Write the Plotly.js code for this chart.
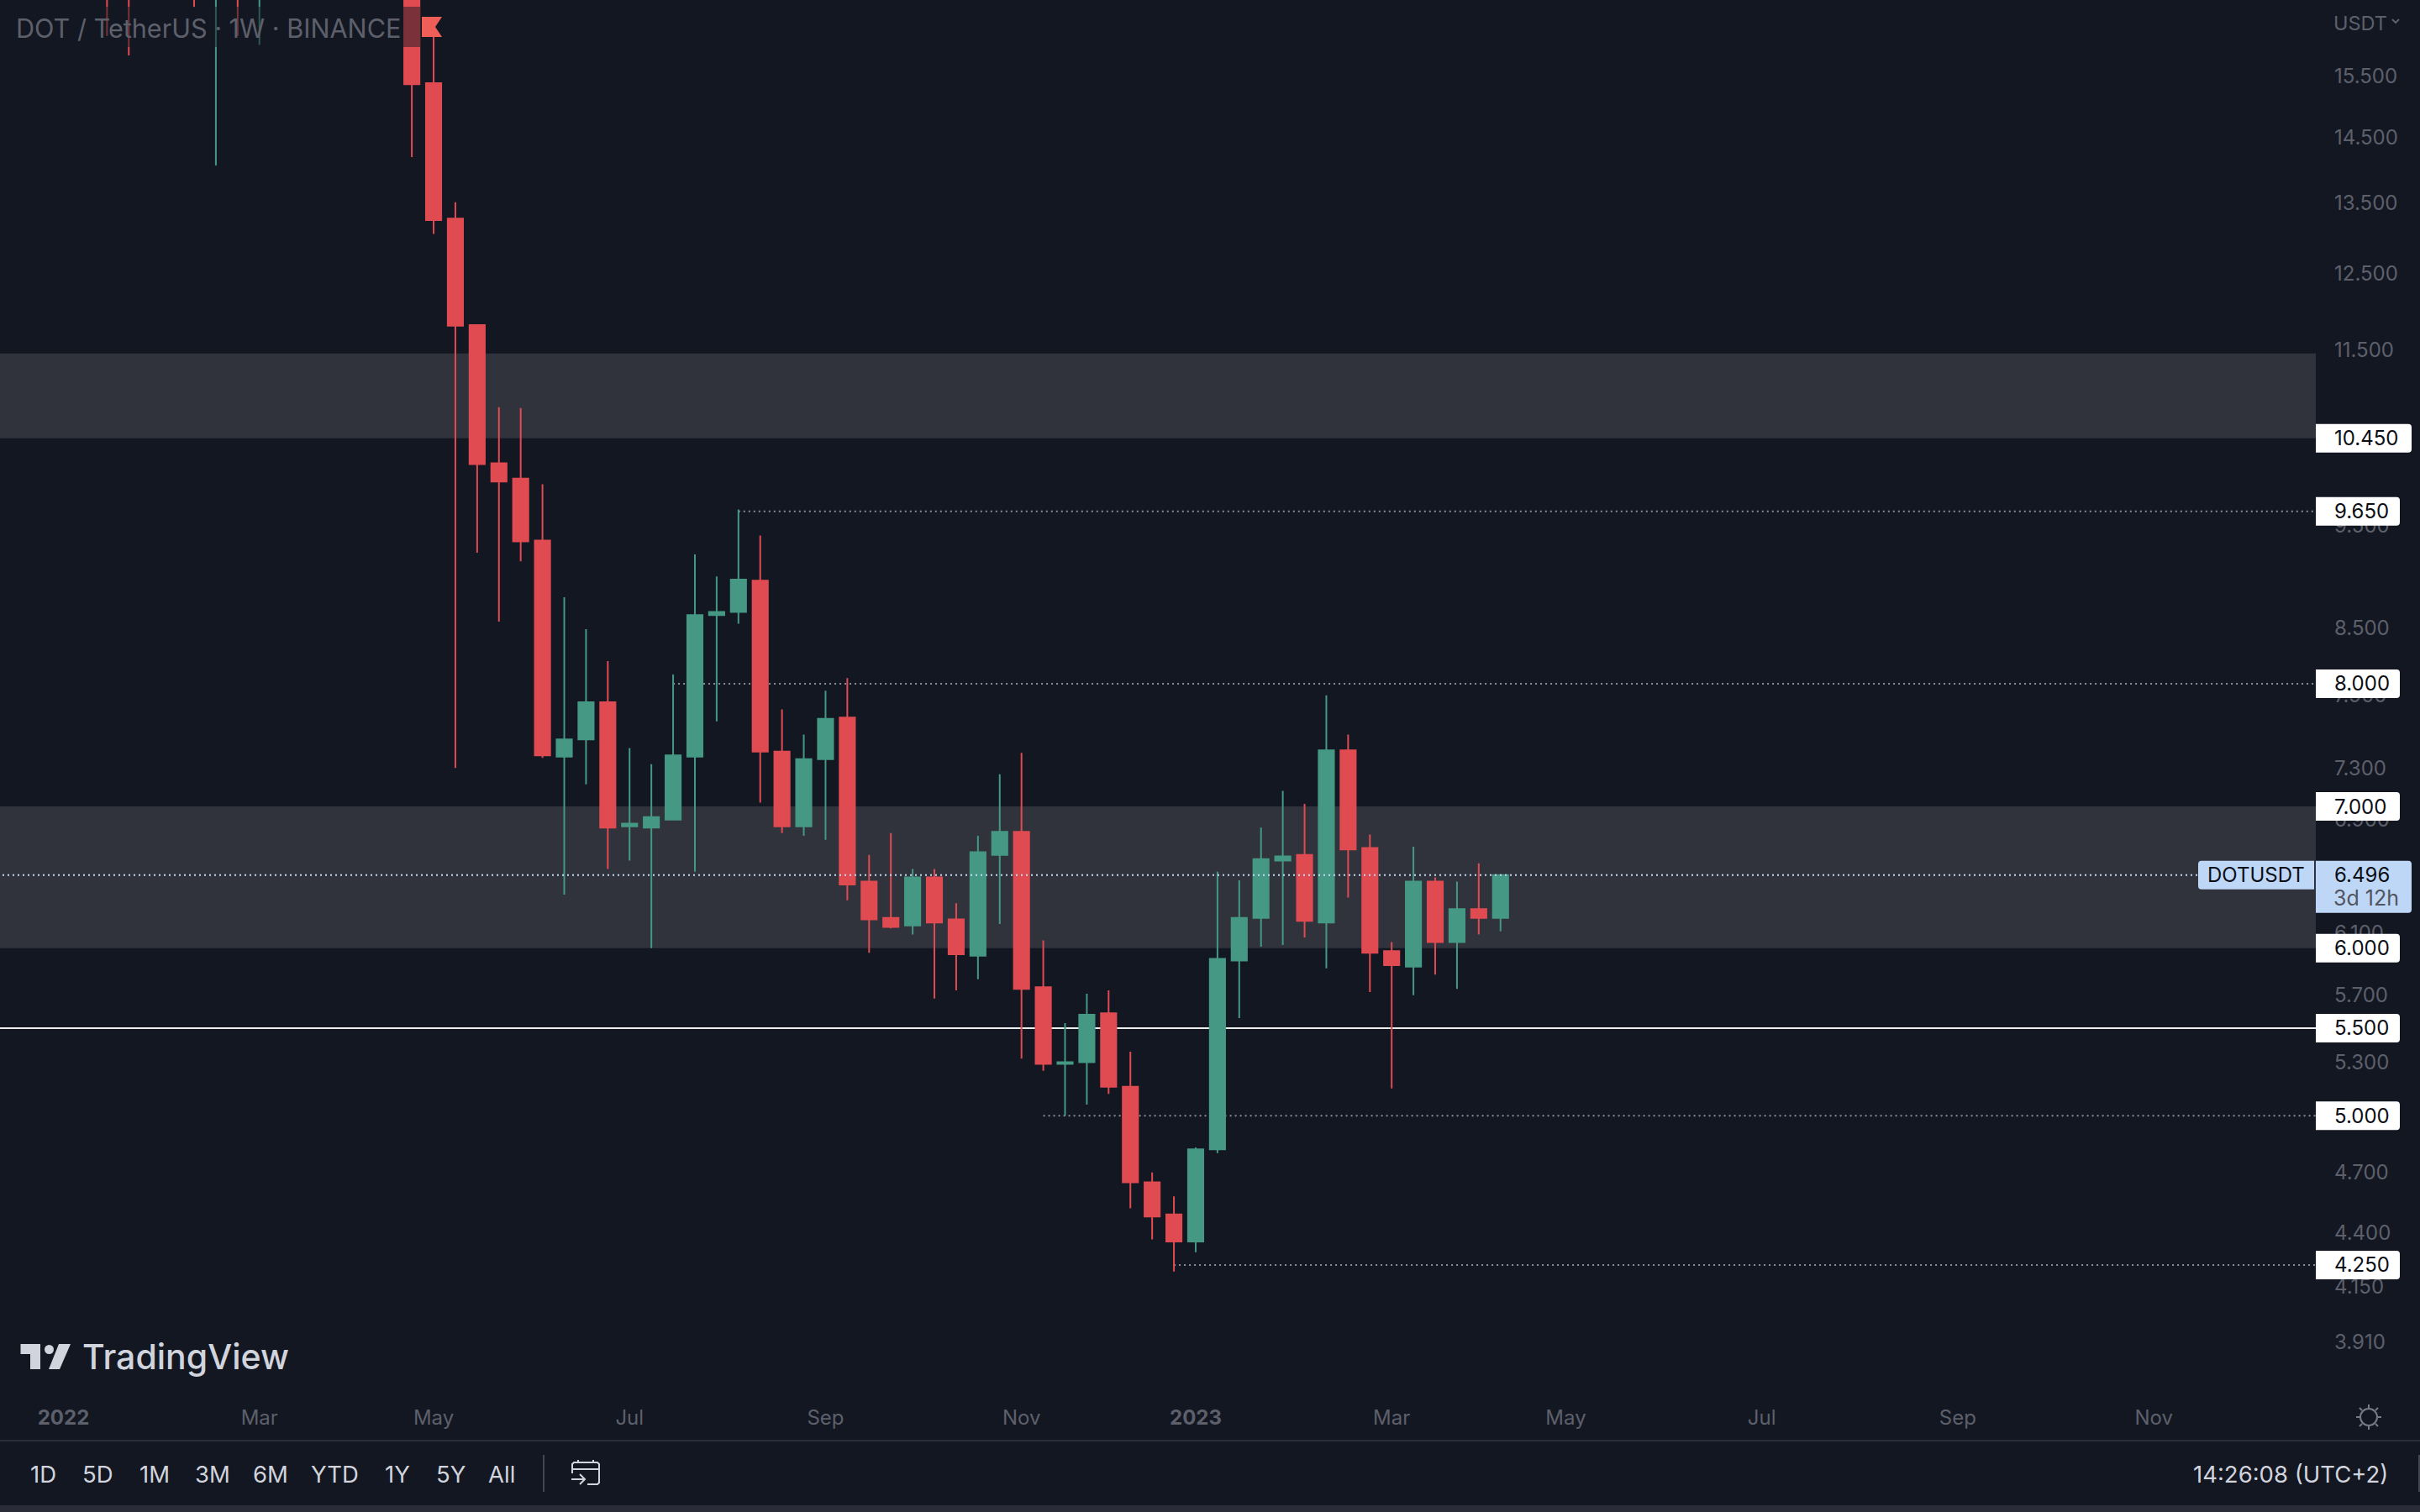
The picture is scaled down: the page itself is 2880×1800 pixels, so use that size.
<!DOCTYPE html>
<html>
<head>
<meta charset="utf-8">
<title>DOT / TetherUS</title>
<script src="https://cdn.plot.ly/plotly-3.0.1.min.js"></script>
<style>
    html, body { margin: 0; padding: 0; background: #131722; overflow: hidden; }
</style>
</head>
<body>
<div id="graph"></div>
<script>
// weekly candles
// the six early weeks only show a low wick, their bodies sit above the crop (estimated)
const dates = [
    '2022-01-17', '2022-01-24', '2022-02-14', '2022-02-21', '2022-02-28', '2022-03-07',
    '2022-04-25', '2022-05-02', '2022-05-09', '2022-05-16', '2022-05-23', '2022-05-30',
    '2022-06-06', '2022-06-13', '2022-06-20', '2022-06-27', '2022-07-04', '2022-07-11',
    '2022-07-18', '2022-07-25', '2022-08-01', '2022-08-08', '2022-08-15', '2022-08-22',
    '2022-08-29', '2022-09-05', '2022-09-12', '2022-09-19', '2022-09-26', '2022-10-03',
    '2022-10-10', '2022-10-17', '2022-10-24', '2022-10-31', '2022-11-07', '2022-11-14',
    '2022-11-21', '2022-11-28', '2022-12-05', '2022-12-12', '2022-12-19', '2022-12-26',
    '2023-01-02', '2023-01-09', '2023-01-16', '2023-01-23', '2023-01-30', '2023-02-06',
    '2023-02-13', '2023-02-20', '2023-02-27', '2023-03-06', '2023-03-13', '2023-03-20',
    '2023-03-27', '2023-04-03', '2023-04-10'
]
const opens = [
    26.0, 21.0, 21.0, 18.0, 18.8, 17.9,
    18.6, 15.38, 13.27, 11.82, 10.17, 10.00,
    9.35, 7.39, 7.53, 7.84, 6.85, 6.84,
    6.90, 7.39, 8.62, 8.65, 8.95, 7.43,
    6.85, 7.37, 7.71, 6.45, 6.20, 6.15,
    6.48, 6.19, 5.95, 6.64, 6.81, 5.75,
    5.29, 5.30, 5.59, 5.16, 4.65, 4.49,
    4.36, 4.82, 5.92, 6.20, 6.60, 6.64,
    6.17, 7.44, 6.69, 5.98, 5.88, 6.45,
    6.04, 6.26, 6.20
]
const highs = [
    27.0, 22.0, 22.0, 19.0, 20.0, 19.0,
    19.5, 16.38, 13.51, 11.82, 10.81, 10.80,
    9.94, 8.79, 8.49, 8.20, 7.46, 7.33,
    8.08, 9.21, 8.99, 9.67, 9.40, 7.78,
    7.57, 7.94, 8.05, 6.64, 6.80, 6.54,
    6.54, 6.30, 6.78, 7.25, 7.42, 6.05,
    5.53, 5.71, 5.73, 5.36, 4.70, 4.58,
    4.83, 6.52, 6.46, 6.84, 7.12, 7.02,
    7.90, 7.57, 6.79, 6.04, 6.70, 6.48,
    6.45, 6.58, 6.496
]
const lows = [
    16.19, 15.85, 16.71, 14.06, 16.19, 16.03,
    14.19, 13.05, 7.30, 9.225, 8.56, 9.14,
    7.38, 6.36, 7.17, 6.54, 6.60, 6.00,
    6.90, 6.52, 7.68, 8.54, 7.03, 6.80,
    6.78, 6.75, 6.32, 5.97, 6.13, 6.09,
    5.68, 5.73, 5.80, 6.16, 5.32, 5.25,
    5.00, 5.06, 5.12, 4.52, 4.37, 4.22,
    4.31, 4.80, 5.56, 6.01, 6.02, 6.07,
    5.87, 6.34, 5.72, 5.15, 5.70, 5.83,
    5.74, 6.09, 6.11
]
const closes = [
    21.0, 18.0, 18.0, 18.9, 18.0, 18.6,
    15.36, 13.25, 11.81, 10.16, 9.97, 9.34,
    7.40, 7.53, 7.84, 6.84, 6.87, 6.92,
    7.40, 8.62, 8.65, 8.96, 7.43, 6.85,
    7.37, 7.70, 6.43, 6.19, 6.14, 6.48,
    6.17, 5.96, 6.66, 6.81, 5.74, 5.29,
    5.30, 5.58, 5.16, 4.65, 4.48, 4.36,
    4.82, 5.93, 6.20, 6.61, 6.63, 6.18,
    7.44, 6.68, 5.97, 5.89, 6.45, 6.04,
    6.26, 6.20, 6.496
]

const priceTicks = [15.5, 14.5, 13.5, 12.5, 11.5, 9.5, 8.5, 7.9, 7.3, 6.9, 6.1, 5.7, 5.3, 4.7, 4.4, 4.15, 3.91]
const priceTickLabels = ['15.500', '14.500', '13.500', '12.500', '11.500', '9.500', '8.500', '7.900', '7.300', '6.900', '6.100', '5.700', '5.300', '4.700', '4.400', '4.150', '3.910']

const timeTicks = ['2022-01-03', '2022-03-07', '2022-05-02', '2022-07-04', '2022-09-05', '2022-11-07', '2023-01-02', '2023-03-06', '2023-05-01', '2023-07-03', '2023-09-04', '2023-11-06']
const timeTickLabels = ['<b>2022</b>', 'Mar', 'May', 'Jul', 'Sep', 'Nov', '<b>2023</b>', 'Mar', 'May', 'Jul', 'Sep', 'Nov']

const zones = [[10.45, 11.46], [6.0, 7.0]]
const levelLabels = [10.45, 9.65, 8.0, 7.0, 6.0, 5.5, 5.0, 4.25]
const dottedLevels = [9.65, 8.0, 5.0, 4.25]
const dottedStarts = ['2022-08-08', '2022-07-18', '2022-11-14', '2022-12-26']
const whiteLevel = 5.5
const lastPrice = 6.496

const rangeButtons = ['1D', '5D', '1M', '3M', '6M', 'YTD', '1Y', '5Y', 'All']
const rangeButtonX = [51, 116, 184, 253, 322, 398, 473, 536, 597]

const W = 2880, H = 1800
const plotW = 2756, plotH = 1665
const priceMin = 3.675, priceMax = 16.835
const xRange = ['2021-12-13 14:24', '2023-12-28 02:24']

const bg = '#131722'
const red = '#E04B52'
const green = '#459884'
const textGray = '#5D606B'
const lightText = '#D1D4DC'
const labelFont = 'Inter, "Noto Sans", sans-serif'

function px(x) { return x / plotW }
function py(y) { return 1 - y / plotH }
function priceFrac(p) {
    return (Math.log10(p) - Math.log10(priceMin)) / (Math.log10(priceMax) - Math.log10(priceMin))
}

// shape path in page pixels, relative to the plot area
function pathOf(points, closed) {
    let d = points.map((p, i) => (i ? 'L' : 'M') + px(p[0]) + ',' + py(p[1])).join(' ')
    return closed ? d + ' Z' : d
}

function pill(x0, y0, x1, y1, rl, rr, color) {
    let d = 'M' + px(x0 + rl) + ',' + py(y0)
        + ' L' + px(x1 - rr) + ',' + py(y0)
        + ' Q' + px(x1) + ',' + py(y0) + ' ' + px(x1) + ',' + py(y0 + rr)
        + ' L' + px(x1) + ',' + py(y1 - rr)
        + ' Q' + px(x1) + ',' + py(y1) + ' ' + px(x1 - rr) + ',' + py(y1)
        + ' L' + px(x0 + rl) + ',' + py(y1)
        + ' Q' + px(x0) + ',' + py(y1) + ' ' + px(x0) + ',' + py(y1 - rl)
        + ' L' + px(x0) + ',' + py(y0 + rl)
        + ' Q' + px(x0) + ',' + py(y0) + ' ' + px(x0 + rl) + ',' + py(y0) + ' Z'
    return {type: 'path', xref: 'paper', yref: 'paper', layer: 'above', path: d, fillcolor: color, line: {width: 0}}
}

function rectPx(x0, y0, x1, y1, color) {
    return {
        type: 'rect', xref: 'paper', yref: 'paper', layer: 'above',
        x0: px(x0), x1: px(x1), y0: py(y0), y1: py(y1),
        fillcolor: color, line: {width: 0}
    }
}

function strokePx(points, color, width) {
    return {
        type: 'path', xref: 'paper', yref: 'paper', layer: 'above',
        path: pathOf(points, false), line: {color: color, width: width}
    }
}

function label(text, x, y, size, color, anchor, weight) {
    return {
        text: text, xref: 'paper', yref: 'paper', x: px(x), y: py(y),
        xanchor: anchor || 'left', yanchor: 'middle', showarrow: false, borderpad: 0,
        font: {family: labelFont, size: size, color: color, weight: weight || 400}
    }
}

function drawGraph() {
    let data = [{
        type: 'candlestick',
        x: dates,
        open: opens,
        high: highs,
        low: lows,
        close: closes,
        hoverinfo: 'skip',
        increasing: {line: {color: green, width: 2}, fillcolor: green},
        decreasing: {line: {color: red, width: 2}, fillcolor: red},
    }]

    let shapes = []
    zones.forEach(z => shapes.push({
        type: 'rect', xref: 'paper', yref: 'y', layer: 'below',
        x0: 0, x1: 1, y0: z[0], y1: z[1], fillcolor: '#30333C', line: {width: 0}
    }))
    dottedLevels.forEach((lvl, i) => shapes.push({
        type: 'line', xref: 'x', yref: 'y', layer: 'below',
        x0: dottedStarts[i], x1: xRange[1], y0: lvl, y1: lvl,
        line: {color: '#8A8D97', width: 2, dash: '2px,4px'}
    }))
    shapes.push({
        type: 'line', xref: 'paper', yref: 'y', layer: 'below',
        x0: 0, x1: 1, y0: whiteLevel, y1: whiteLevel, line: {color: '#EDEDED', width: 2}
    })
    // last price line sits over the candles
    shapes.push({
        type: 'line', xref: 'paper', yref: 'y', layer: 'above',
        x0: px(3), x1: px(2616), y0: lastPrice, y1: lastPrice,
        line: {color: '#C5DAF5', width: 2, dash: '2px,4px'}
    })

    // backdrop under the symbol title, and the flag next to it
    shapes.push(rectPx(0, 8, 500, 56, 'rgba(19,23,34,0.5)'))
    shapes.push({
        type: 'path', xref: 'paper', yref: 'paper', layer: 'above',
        path: pathOf([[502, 20], [526, 20], [518, 32], [526, 44], [502, 44]], true),
        fillcolor: '#EF5F58', line: {width: 0}
    })

    // price labels on the right, the six character one gets the wider box
    let lastY = (1 - priceFrac(lastPrice)) * plotH
    levelLabels.forEach(lvl => {
        let y = (1 - priceFrac(lvl)) * plotH
        shapes.push(pill(plotW, y - 17, lvl >= 10 ? 2870 : 2856, y + 17, 0, 4, '#FFFFFF'))
    })
    shapes.push(pill(2616, lastY - 17, 2754, lastY + 17, 4, 0, '#BFD7F7'))
    shapes.push(pill(plotW, lastY - 17, 2870, lastY + 45, 0, 4, '#BFD7F7'))

    // bottom bar
    shapes.push(rectPx(0, 1714, W, 1716, '#2A2E39'))
    shapes.push(rectPx(0, 1792, W, H, '#2A2D38'))
    shapes.push(rectPx(646, 1732, 648, 1776, '#434651'))
    shapes.push(rectPx(2878, 1732, 2880, 1776, '#434651'))

    // calendar icon
    shapes.push(strokePx([[681, 1754], [681, 1743], [683, 1741], [711, 1741], [713, 1743], [713, 1765], [711, 1767], [699, 1767]], lightText, 2))
    shapes.push(strokePx([[681, 1749], [713, 1749]], lightText, 2))
    shapes.push(strokePx([[688, 1738], [688, 1741]], lightText, 2))
    shapes.push(strokePx([[706, 1738], [706, 1741]], lightText, 2))
    shapes.push(strokePx([[680, 1761], [695, 1761]], lightText, 2))
    shapes.push(strokePx([[690, 1755], [696, 1761], [690, 1767]], lightText, 2))

    // sun icon
    shapes.push({
        type: 'circle', xref: 'paper', yref: 'paper', layer: 'above',
        x0: px(2809), x1: px(2829), y0: py(1697), y1: py(1677),
        line: {color: '#787B86', width: 2}
    })
    let rays = [[0, -15, 0, -11], [0, 15, 0, 11], [-15, 0, -11, 0], [15, 0, 11, 0], [-11, -11, -8, -8], [11, -11, 8, -8], [-11, 11, -8, 8], [11, 11, 8, 8]]
    rays.forEach(r => shapes.push(strokePx([[2819 + r[0], 1687 + r[1]], [2819 + r[2], 1687 + r[3]]], '#787B86', 2)))

    // currency chevron
    shapes.push(strokePx([[2847, 23], [2851, 27], [2855, 23]], textGray, 2))

    // TradingView logo
    shapes.push({
        type: 'path', xref: 'paper', yref: 'paper', layer: 'above',
        path: pathOf([[24.5, 1600], [48, 1600], [48, 1630], [36, 1630], [36, 1612], [24.5, 1612]], true),
        fillcolor: lightText, line: {width: 0}
    })
    shapes.push({
        type: 'circle', xref: 'paper', yref: 'paper', layer: 'above',
        x0: px(53), x1: px(64), y0: py(1612), y1: py(1601),
        fillcolor: lightText, line: {width: 0}
    })
    shapes.push({
        type: 'path', xref: 'paper', yref: 'paper', layer: 'above',
        path: pathOf([[70, 1600], [84, 1600], [71, 1630], [58, 1630]], true),
        fillcolor: lightText, line: {width: 0}
    })

    let annotations = [
        label('DOT / TetherUS · 1W · BINANCE', 18, 33, 30.6, textGray),
        label('USDT', 2776, 27, 23.5, textGray),
        label('DOTUSDT', 2626, lastY, 24, '#0B0E14'),
        label(lastPrice.toFixed(3), 2777, lastY, 24, '#0B0E14'),
        label('3d 12h', 2776, lastY + 27, 25, '#50555F'),
        label('TradingView', 97, 1615, 41, lightText, 'left', 500),
        label('14:26:08 (UTC+2)', 2843, 1755, 27.5, lightText, 'right'),
    ]
    levelLabels.forEach(lvl => {
        annotations.push(label(lvl.toFixed(3), 2777, (1 - priceFrac(lvl)) * plotH, 24, '#0B0E14'))
    })
    rangeButtons.forEach((b, i) => annotations.push(label(b, rangeButtonX[i], 1755, 27.5, lightText, 'center')))

    let layout = {
        width: W,
        height: H,
        margin: {l: 0, r: W - plotW, t: 0, b: H - plotH, pad: 0},
        showlegend: false,
        paper_bgcolor: bg,
        plot_bgcolor: bg,
        boxgap: 0.3,
        boxgroupgap: 0,
        xaxis: {
            type: 'date',
            range: xRange,
            rangeslider: {visible: false},
            tickmode: 'array',
            tickvals: timeTicks,
            ticktext: timeTickLabels,
            tickangle: 0,
            ticks: '',
            ticklabelstandoff: 6,
            tickfont: {family: labelFont, size: 24, color: textGray},
            showgrid: false,
            zeroline: false,
            showline: false,
            fixedrange: true
        },
        yaxis: {
            type: 'log',
            side: 'right',
            range: [Math.log10(priceMin), Math.log10(priceMax)],
            tickmode: 'array',
            tickvals: priceTicks,
            ticktext: priceTickLabels,
            ticks: '',
            ticklabelstandoff: 21,
            tickfont: {family: labelFont, size: 24, color: textGray},
            showgrid: false,
            zeroline: false,
            showline: false,
            fixedrange: true
        },
        shapes: shapes,
        annotations: annotations
    }

    Plotly.newPlot('graph', data, layout, {displayModeBar: false, staticPlot: true})
}

drawGraph()
</script>
</body>
</html>
